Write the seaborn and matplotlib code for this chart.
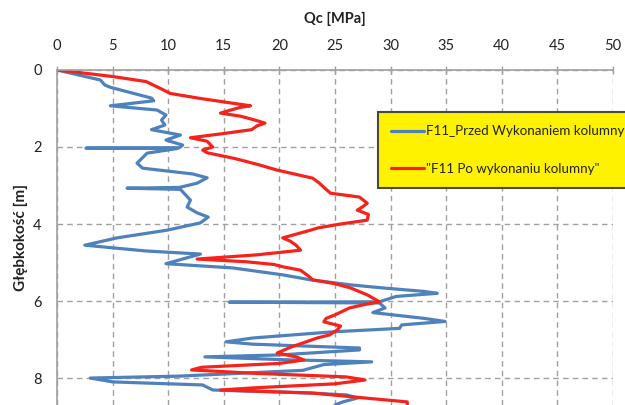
import pandas as pd
import matplotlib
matplotlib.use("Agg")
import matplotlib.pyplot as plt
import seaborn as sns

# Sondowanie F11 - przed wykonaniem kolumny (niebieska)
depth_before = [0.00, 0.26, 0.39, 0.45, 0.73, 0.80, 0.93, 1.04, 1.17, 1.30, 1.43, 1.55,
                1.69, 1.82, 1.95, 2.02, 2.03, 2.04, 2.16, 2.42, 2.55, 2.70, 2.80, 2.94,
                3.05, 3.07, 3.10, 3.38, 3.56, 3.71, 3.82, 3.97, 4.16, 4.36, 4.55, 4.70,
                4.78, 5.03, 5.14, 5.32, 5.45, 5.58, 5.66, 5.75, 5.80, 5.88, 6.02, 6.03,
                6.05, 6.18, 6.30, 6.45, 6.53, 6.62, 6.71, 6.80, 6.96, 7.06, 7.12, 7.22,
                7.27, 7.40, 7.45, 7.52, 7.58, 7.65, 7.80, 7.95, 8.00, 8.10, 8.18, 8.31,
                8.39, 8.44, 8.52, 8.62, 8.70]
qc_before = [0.0, 3.9, 4.3, 4.8, 8.5, 8.7, 4.8, 9.0, 9.8, 9.4, 9.7, 8.5,
             11.1, 9.8, 11.3, 11.0, 2.6, 10.8, 8.1, 7.2, 7.7, 12.2, 13.5, 12.6,
             11.0, 6.3, 11.1, 12.0, 11.7, 12.6, 13.6, 12.9, 9.9, 5.4, 2.5, 8.0,
             12.9, 9.8, 15.8, 20.3, 22.8, 26.4, 29.3, 33.0, 34.2, 30.5, 29.0, 15.5,
             29.0, 29.5, 28.4, 33.0, 34.9, 31.0, 30.8, 24.8, 17.6, 15.2, 17.6, 27.2,
             27.2, 20.0, 13.3, 20.0, 28.3, 24.0, 22.1, 11.0, 3.0, 5.0, 13.1, 14.0,
             22.8, 26.1, 27.0, 25.7, 25.0]

# Sondowanie F11 - po wykonaniu kolumny (czerwona)
depth_after = [0.00, 0.10, 0.17, 0.30, 0.48, 0.61, 0.74, 0.85, 0.93, 0.97, 1.05, 1.12,
               1.20, 1.30, 1.38, 1.45, 1.55, 1.65, 1.76, 1.85, 1.94, 2.00, 2.08, 2.15,
               2.30, 2.45, 2.60, 2.81, 2.94, 3.10, 3.20, 3.30, 3.46, 3.55, 3.64, 3.75,
               3.90, 4.00, 4.10, 4.16, 4.36, 4.45, 4.55, 4.68, 4.80, 4.91, 4.98, 5.05,
               5.11, 5.20, 5.37, 5.45, 5.55, 5.66, 5.84, 6.02, 6.10, 6.18, 6.36, 6.45,
               6.54, 6.65, 6.75, 6.88, 6.96, 7.05, 7.20, 7.35, 7.45, 7.53, 7.62, 7.72,
               7.79, 7.88, 7.97, 8.05, 8.15, 8.25, 8.31, 8.36, 8.39, 8.50, 8.62, 8.70]
qc_after = [0.0, 3.0, 5.0, 8.0, 9.3, 10.2, 12.9, 15.5, 17.4, 16.5, 15.5, 14.7,
            16.5, 17.8, 18.7, 18.0, 17.5, 15.0, 12.0, 13.5, 13.8, 14.0, 13.1, 13.5,
            16.0, 18.0, 19.8, 23.0, 23.6, 24.2, 24.6, 27.2, 27.9, 27.5, 27.0, 28.0,
            27.9, 25.5, 23.5, 22.8, 20.3, 21.0, 21.5, 21.9, 18.0, 12.6, 17.0, 19.5,
            20.3, 21.9, 22.7, 23.0, 25.0, 26.4, 27.9, 29.0, 27.5, 26.3, 25.0, 24.2,
            24.0, 25.5, 25.2, 24.5, 23.4, 22.5, 21.0, 19.8, 21.5, 22.2, 20.0, 13.0,
            12.1, 18.0, 26.0, 27.7, 25.0, 18.0, 14.7, 20.0, 23.0, 27.0, 31.5, 31.5]

label_before = "F11_Przed Wykonaniem kolumny"
label_after = '"F11 Po wykonaniu kolumny"'
x_ticks = [0, 5, 10, 15, 20, 25, 30, 35, 40, 45, 50]
y_ticks = [0, 2, 4, 6, 8]

df_before = pd.DataFrame({"depth": depth_before, "qc": qc_before})
df_after = pd.DataFrame({"depth": depth_after, "qc": qc_after})

sns.set_style("white")
plt.rcParams["font.family"] = ["Lato", "DejaVu Sans"]

fig = plt.figure(figsize=(6.25, 4.05), dpi=100)
ax = fig.add_axes([0.0912, 0.0, 0.8896, 0.8272])

sns.lineplot(data=df_before, x="qc", y="depth", sort=False, estimator=None,
             color="#4F81BD", linewidth=2.3, label=label_before, ax=ax)
sns.lineplot(data=df_after, x="qc", y="depth", sort=False, estimator=None,
             color="#F5231C", linewidth=2.3, label=label_after, ax=ax)

ax.set_xlim(0, 50)
ax.set_ylim(8.7, 0)
ax.set_xticks(x_ticks)
ax.set_yticks(y_ticks)
ax.xaxis.tick_top()
ax.xaxis.set_label_position("top")
ax.tick_params(axis="both", direction="inout", length=6, width=1, color="#A0A0A0",
               labelsize=10.5, labelcolor="#222222")
ax.tick_params(axis="x", pad=9)
ax.tick_params(axis="y", pad=8)

ax.set_xlabel("Qc [MPa]", fontsize=10.5, fontweight="bold", color="#222222", labelpad=12)
ax.set_ylabel("Głębkokość [m]", fontsize=11, fontweight="bold", color="#222222", labelpad=4)

ax.grid(True, linestyle=(0, (4, 3)), color="#A0A0A0", linewidth=1)
for side in ["bottom", "right"]:
    ax.spines[side].set_visible(False)
for side in ["top", "left"]:
    ax.spines[side].set_color("#A0A0A0")
    ax.spines[side].set_linewidth(1.2)

leg = ax.legend(loc="upper left", bbox_to_anchor=(0.577, 0.875), fontsize=9.6,
                frameon=True, fancybox=False, labelspacing=1.9, handlelength=2.5,
                handletextpad=0.1, borderpad=1.0, borderaxespad=0)
leg.get_frame().set_facecolor("#FFF200")
leg.get_frame().set_edgecolor("#4A4A3A")
leg.get_frame().set_linewidth(1.5)
leg.get_frame().set_alpha(1)
for t in leg.get_texts():
    t.set_color("#222222")

fig.savefig("out.png", dpi=100)
